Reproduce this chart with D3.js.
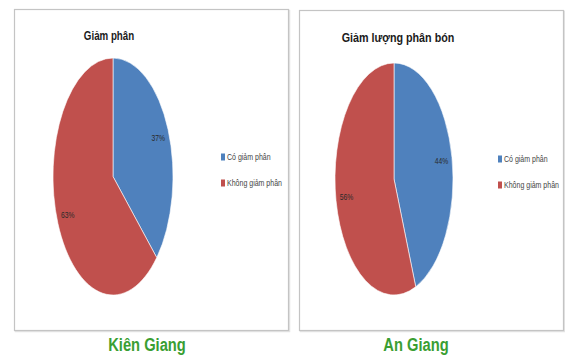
<!DOCTYPE html>
<html>
<head>
<meta charset="utf-8">
<script src="https://cdn.jsdelivr.net/npm/d3@7/dist/d3.min.js"></script>
<style>
  html, body { margin: 0; padding: 0; background: #ffffff; }
  svg { display: block; }
</style>
</head>
<body>
<svg id="chart" width="565" height="361"></svg>
<script>
// Survey results: share of households that reduced fertilizer
const regions = ["Kiên Giang", "An Giang"];
const chartTitles = ["Giảm phân", "Giảm lượng phân bón"];
const categories = ["Có giảm phân", "Không giảm phân"];
const kienGiangValues = [37, 63];
const anGiangValues = [44, 56];
const seriesValues = [kienGiangValues, anGiangValues];

const colors = d3.scaleOrdinal().domain(categories).range(["#4f81bd", "#c0504d"]);

const svg = d3.select("#chart");

// Layout of each chart panel
const panels = [
  { x: 14.5, y: 9.5, w: 274, h: 321, cx: 113, cy: 176.5, rx: 60, ry: 118.5,
    titleX: 109, titleY: 40, titleSquash: 0.78, legendX: 221, legendY: 157, captionX: 147 },
  { x: 299.5, y: 10.5, w: 264, h: 320, cx: 394, cy: 179, rx: 59, ry: 116,
    titleX: 398, titleY: 42, titleSquash: 0.86, legendX: 498, legendY: 159, captionX: 416 }
];

// Condense text horizontally to a narrow face: move the anchor point
// into a transform and squash the glyphs along x.
function condense(sel, factor) {
  sel.each(function () {
    const t = d3.select(this);
    const x = +t.attr("x") || 0;
    const y = +t.attr("y") || 0;
    t.attr("x", 0).attr("y", 0)
      .attr("transform", `translate(${x},${y}) scale(${factor},1)`);
  });
}

const pie = d3.pie().sort(null).value(d => d);

panels.forEach((p, i) => {
  const g = svg.append("g");

  // panel frame with a soft shadow
  g.append("rect")
    .attr("x", p.x + 1).attr("y", p.y + 1).attr("width", p.w).attr("height", p.h)
    .attr("fill", "none").attr("stroke", "#e4e4e4").attr("stroke-width", 1.5);
  g.append("rect")
    .attr("x", p.x).attr("y", p.y).attr("width", p.w).attr("height", p.h)
    .attr("fill", "#ffffff").attr("stroke", "#c4c4c4").attr("stroke-width", 1.2);

  // chart title
  g.append("text")
    .attr("x", p.titleX).attr("y", p.titleY)
    .attr("text-anchor", "middle")
    .attr("font-family", "Liberation Sans, Arial, sans-serif")
    .attr("font-weight", "bold")
    .attr("font-size", 12.5)
    .attr("fill", "#1a1a1a")
    .text(chartTitles[i])
    .call(condense, p.titleSquash);

  // pie drawn as a circle stretched vertically
  const r = p.rx;
  const sy = p.ry / p.rx;
  const arc = d3.arc().innerRadius(0).outerRadius(r);
  const labelArc = d3.arc().innerRadius(r * 0.82).outerRadius(r * 0.82);
  const arcs = pie(seriesValues[i]);

  const pg = g.append("g")
    .attr("transform", `translate(${p.cx},${p.cy}) scale(1,${sy})`);
  pg.selectAll("path")
    .data(arcs)
    .join("path")
    .attr("d", arc)
    .attr("fill", (d, k) => colors(categories[k]))
    .attr("stroke", "#ffffff")
    .attr("stroke-width", 0.6)
    .attr("vector-effect", "non-scaling-stroke");

  // percentage labels
  g.selectAll("text.pct")
    .data(arcs)
    .join("text")
    .attr("class", "pct")
    .attr("x", d => p.cx + labelArc.centroid(d)[0])
    .attr("y", d => p.cy + labelArc.centroid(d)[1] * sy)
    .attr("dy", "0.35em")
    .attr("text-anchor", "middle")
    .attr("font-family", "Liberation Sans, Arial, sans-serif")
    .attr("font-size", 9)
    .attr("fill", "#2a2a2a")
    .text(d => d.data + "%")
    .call(condense, 0.75);

  // legend
  const lg = g.append("g").attr("transform", `translate(${p.legendX},${p.legendY})`);
  const items = lg.selectAll("g")
    .data(categories)
    .join("g")
    .attr("transform", (d, k) => `translate(0,${k * 26})`);
  items.append("rect")
    .attr("x", 0).attr("y", -3.5).attr("width", 4).attr("height", 7)
    .attr("fill", d => colors(d));
  items.append("text")
    .attr("x", 6).attr("y", 0).attr("dy", "0.35em")
    .attr("font-family", "Liberation Sans, Arial, sans-serif")
    .attr("font-size", 9)
    .attr("fill", "#444444")
    .text(d => d)
    .call(condense, 0.78);

  // region caption beneath the panel
  svg.append("text")
    .attr("x", p.captionX).attr("y", 351)
    .attr("text-anchor", "middle")
    .attr("font-family", "Liberation Sans, Arial, sans-serif")
    .attr("font-weight", "bold")
    .attr("font-size", 17.5)
    .attr("fill", "#3a9e32")
    .text(regions[i])
    .call(condense, 0.84);
});
</script>
</body>
</html>
